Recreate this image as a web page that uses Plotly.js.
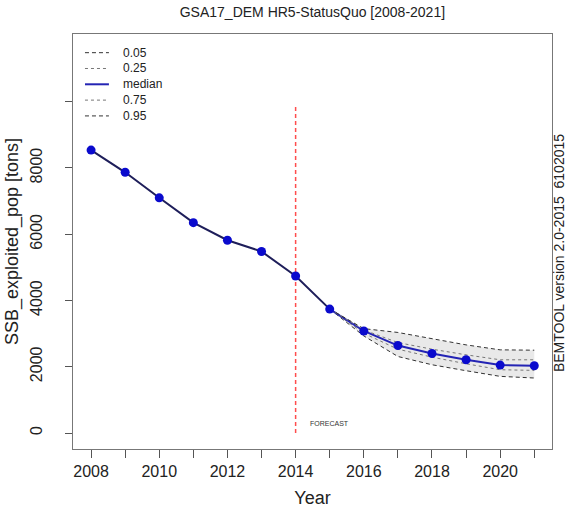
<!DOCTYPE html>
<html>
<head>
<meta charset="utf-8">
<script src="https://cdn.plot.ly/plotly-3.0.1.min.js"></script>
<style>html,body{margin:0;padding:0;background:#fff;}#chart{width:567px;height:519px;}</style>
</head>
<body>
<div id="chart"></div>
<script>
// ---- data ----
const years = [2008, 2009, 2010, 2011, 2012, 2013, 2014, 2015, 2016, 2017, 2018, 2019, 2020, 2021];
const ssbMedian = [8540, 7870, 7100, 6350, 5820, 5480, 4740, 3740, 3080, 2640, 2400, 2210, 2050, 2030];
const fcYears = [2015, 2016, 2017, 2018, 2019, 2020, 2021];
const q05 = [3740, 2930, 2310, 2060, 1880, 1710, 1660];
const q25 = [3740, 3010, 2530, 2290, 2090, 1910, 1890];
const q75 = [3740, 3110, 2730, 2530, 2360, 2210, 2210];
const q95 = [3740, 3150, 3035, 2840, 2660, 2510, 2500];
const forecastYear = 2014;
const forecastLineTop = 9850;
const xTickVals = [2008, 2009, 2010, 2011, 2012, 2013, 2014, 2015, 2016, 2017, 2018, 2019, 2020, 2021];
const xTickText = ['2008', '', '2010', '', '2012', '', '2014', '', '2016', '', '2018', '', '2020', ''];
const yTickVals = [0, 2000, 4000, 6000, 8000, 10000];
const yTickText = ['0', '2000', '4000', '6000', '8000', ''];
const legendLabels = ['0.05', '0.25', 'median', '0.75', '0.95'];

const histYears = years.filter(y => y <= 2015);
const histVals = ssbMedian.slice(0, histYears.length);
const fcMedian = fcYears.map(y => ssbMedian[years.indexOf(y)]);

const dashCol = '#333333';
const dotCol = '#777777';
const medCol = '#2424b4';
const legendStyles = [
  {color: dashCol, width: 1, dash: '4px,3px'},
  {color: dotCol, width: 1, dash: 'dot'},
  {color: medCol, width: 2, dash: 'solid'},
  {color: dotCol, width: 1, dash: 'dot'},
  {color: dashCol, width: 1, dash: '4px,3px'}
];
const qSeries = [q05, q25, fcMedian, q75, q95];

const traces = [
  {x: fcYears, y: q05, mode: 'lines', line: {width: 0}, showlegend: false, hoverinfo: 'skip'},
  {x: fcYears, y: q95, mode: 'lines', line: {width: 0}, fill: 'tonexty', fillcolor: 'rgba(228,228,228,0.8)', showlegend: false, hoverinfo: 'skip'},
  {x: [forecastYear, forecastYear], y: [0, forecastLineTop], mode: 'lines', line: {color: '#ff4d4d', width: 1.5, dash: '4px,3px'}, showlegend: false},
  {x: histYears, y: histVals, mode: 'lines', line: {color: '#1e1e5a', width: 2}, showlegend: false}
];
qSeries.forEach((s, i) => {
  traces.push({x: fcYears, y: s, name: legendLabels[i], mode: 'lines', line: legendStyles[i], showlegend: false});
});
traces.push({x: years, y: ssbMedian, mode: 'markers', marker: {color: '#0a0acd', size: 9}, showlegend: false});

// manual legend (R style, compact rows)
const shapes = [];
const annotations = [
  {x: 2015, y: 300, xref: 'x', yref: 'y', text: 'FORECAST', showarrow: false, font: {size: 7, color: '#333'}},
  {x: 1.0, y: 0.472, xref: 'paper', yref: 'paper', xanchor: 'center', yanchor: 'middle', xshift: 7, text: 'BEMTOOL version 2.0-2015  6102015', textangle: -90, showarrow: false, font: {size: 14, color: '#222'}}
];
legendLabels.forEach((lab, i) => {
  const yy = 0.955 - i * 0.0381;
  shapes.push({type: 'line', xref: 'paper', yref: 'paper', x0: 0.025, x1: 0.075, y0: yy, y1: yy, line: legendStyles[i]});
  annotations.push({x: 0.1, y: yy, xref: 'paper', yref: 'paper', xanchor: 'left', yanchor: 'middle', text: lab, showarrow: false, font: {size: 12, color: '#222'}});
});

const layout = {
  width: 567, height: 519,
  margin: {l: 73, r: 15, t: 34, b: 70},
  paper_bgcolor: '#fff', plot_bgcolor: '#fff',
  font: {family: 'Liberation Sans, Arial, sans-serif', color: '#222'},
  title: {text: 'GSA17_DEM HR5-StatusQuo [2008-2021]', font: {size: 14, color: '#222'}, x: 0.551, xanchor: 'center', y: 0.977, yanchor: 'middle'},
  showlegend: false,
  xaxis: {
    range: [2007.47, 2021.52], tickmode: 'array', tickvals: xTickVals, ticktext: xTickText,
    ticks: 'outside', ticklen: 8, tickcolor: '#555', showgrid: false, zeroline: false,
    showline: true, linecolor: '#777', linewidth: 1, mirror: true,
    tickfont: {size: 16, color: '#222'},
    title: {text: 'Year', font: {size: 18, color: '#222'}, standoff: 12}
  },
  yaxis: {
    range: [-483, 12045], tickmode: 'array', tickvals: yTickVals, ticktext: yTickText,
    ticks: 'outside', ticklen: 7, tickcolor: '#555', showgrid: false, zeroline: false,
    showline: true, linecolor: '#777', linewidth: 1, mirror: true,
    tickangle: -90, tickfont: {size: 16, color: '#222'}, ticklabelstandoff: 17,
    title: {text: 'SSB_exploited_pop [tons]', font: {size: 18, color: '#222'}, standoff: 4}
  },
  shapes: shapes,
  annotations: annotations
};

Plotly.newPlot('chart', traces, layout, {displayModeBar: false, staticPlot: true});
</script>
</body>
</html>
